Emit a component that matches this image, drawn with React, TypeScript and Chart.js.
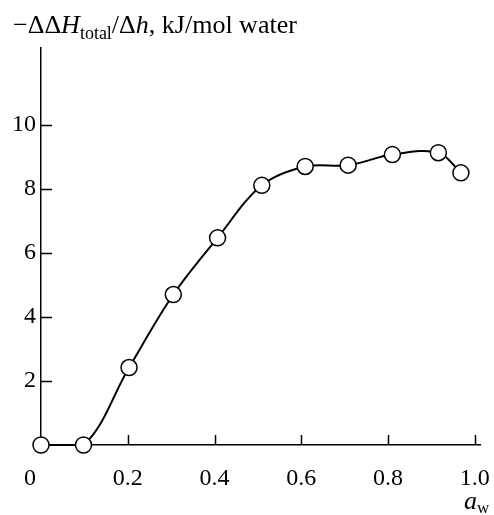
import React, { useEffect, useRef } from "react";
import { Chart, registerables } from "chart.js";

Chart.register(...registerables);

// Water activity (x) and -ΔΔH_total/Δh (y)
const awValues = [0, 0.098, 0.203, 0.305, 0.407, 0.509, 0.609, 0.708, 0.81, 0.916, 0.968];
const enthalpyValues = [0, 0, 2.42, 4.7, 6.47, 8.11, 8.7, 8.74, 9.07, 9.13, 8.5];

const xTickValues = [0.2, 0.4, 0.6, 0.8, 1.0];
const xTickLabels = ["0.2", "0.4", "0.6", "0.8", "1.0"];
const yTickValues = [2, 4, 6, 8, 10];
const yTickLabels = ["2", "4", "6", "8", "10"];
const originLabel = "0";

const SERIF = "'Liberation Serif', 'Times New Roman', serif";
const TICK_SIZE = 24;
const TITLE_SIZE = 26;

type Part = { text: string; size: number; italic?: boolean; dy?: number };

function drawRich(ctx: CanvasRenderingContext2D, x: number, y: number, parts: Part[]) {
  let cx = x;
  for (const p of parts) {
    ctx.font = `${p.italic ? "italic " : ""}${p.size}px ${SERIF}`;
    ctx.fillText(p.text, cx, y + (p.dy || 0));
    cx += ctx.measureText(p.text).width;
  }
}

const decorPlugin = {
  id: "decor",
  afterDraw(chart: any) {
    const ctx: CanvasRenderingContext2D = chart.ctx;
    const xs = chart.scales.x;
    const ys = chart.scales.y;
    const area = chart.chartArea;
    ctx.save();
    ctx.strokeStyle = "#000";
    ctx.fillStyle = "#000";
    ctx.lineWidth = 1.5;
    // inward tick marks
    ctx.beginPath();
    for (const t of xs.ticks) {
      const px = Math.round(xs.getPixelForValue(t.value)) + 0.5;
      ctx.moveTo(px, area.bottom);
      ctx.lineTo(px, area.bottom - 10);
    }
    for (const t of ys.ticks) {
      const py = Math.round(ys.getPixelForValue(t.value)) + 0.5;
      ctx.moveTo(area.left, py);
      ctx.lineTo(area.left + 11, py);
    }
    ctx.stroke();

    // origin label "0"
    ctx.textBaseline = "alphabetic";
    ctx.textAlign = "center";
    ctx.font = `${TICK_SIZE}px ${SERIF}`;
    ctx.fillText(originLabel, xs.getPixelForValue(0) - 11, area.bottom + 40);

    // y title
    ctx.textAlign = "left";
    drawRich(ctx, 13, 33, [
      { text: "−ΔΔ", size: TITLE_SIZE },
      { text: "H", size: TITLE_SIZE, italic: true },
      { text: "total", size: 18, dy: 6 },
      { text: "/Δ", size: TITLE_SIZE },
      { text: "h", size: TITLE_SIZE, italic: true },
      { text: ", kJ/mol water", size: TITLE_SIZE },
    ]);

    // x title
    drawRich(ctx, 464, 509, [
      { text: "a", size: TITLE_SIZE, italic: true },
      { text: "w", size: 17, dy: 4 },
    ]);
    ctx.restore();
  },
};

export default function App() {
  const canvasRef = useRef<HTMLCanvasElement | null>(null);

  useEffect(() => {
    document.body.style.margin = "0";
    const canvas = canvasRef.current;
    if (!canvas) return;
    const chart = new Chart(canvas, {
      type: "line",
      data: {
        datasets: [
          {
            data: awValues.map((x, i) => ({ x, y: enthalpyValues[i] })),
            borderColor: "#000",
            borderWidth: 2,
            tension: 0.35,
            pointRadius: 8,
            pointHoverRadius: 8,
            pointBackgroundColor: "#fff",
            pointBorderColor: "#000",
            pointBorderWidth: 1.5,
            clip: false,
          } as any,
        ],
      },
      options: {
        animation: false,
        responsive: false,
        events: [],
        layout: { padding: { top: 48, right: 14, left: 0, bottom: 0 } },
        plugins: { legend: { display: false }, tooltip: { enabled: false }, title: { display: false } },
        scales: {
          x: {
            type: "linear",
            min: 0,
            max: 1.012,
            grid: { display: false, drawTicks: false },
            border: { display: true, color: "#000", width: 1.5 },
            afterBuildTicks: (s: any) => {
              s.ticks = xTickValues.map((v) => ({ value: v }));
            },
            afterFit: (s: any) => {
              s.height = 70;
              s.paddingLeft = 0;
              s.paddingRight = 0;
            },
            ticks: {
              autoSkip: false,
              maxRotation: 0,
              padding: 19,
              color: "#000",
              font: { family: SERIF, size: TICK_SIZE },
              callback: (v: any) => xTickLabels[xTickValues.indexOf(v)] ?? "",
            },
          },
          y: {
            type: "linear",
            min: 0,
            max: 12.4,
            grid: { display: false, drawTicks: false },
            border: { display: true, color: "#000", width: 1.5 },
            afterBuildTicks: (s: any) => {
              s.ticks = yTickValues.map((v) => ({ value: v }));
            },
            afterFit: (s: any) => {
              s.width = 41;
              s.paddingTop = 0;
              s.paddingBottom = 0;
            },
            ticks: {
              autoSkip: false,
              padding: 5,
              color: "#000",
              font: { family: SERIF, size: TICK_SIZE },
              callback: (v: any) => yTickLabels[yTickValues.indexOf(v)] ?? "",
            },
          },
        },
      },
      plugins: [decorPlugin],
    });
    return () => chart.destroy();
  }, []);

  return (
    <div style={{ width: 494, height: 515 }}>
      <canvas ref={canvasRef} width={494} height={515} style={{ display: "block" }} />
    </div>
  );
}
